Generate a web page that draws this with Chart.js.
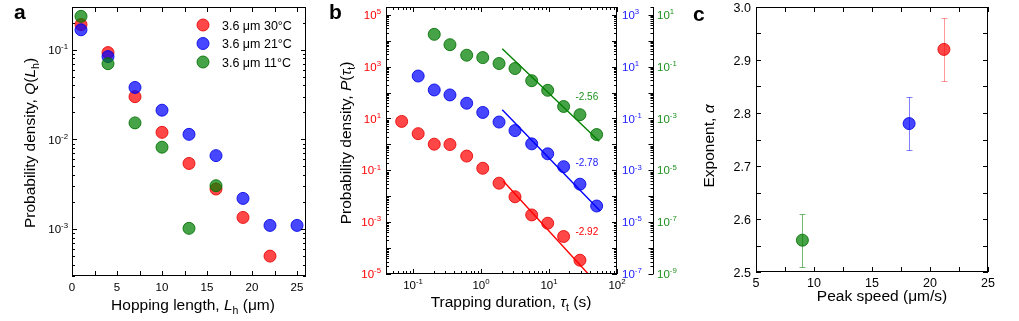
<!DOCTYPE html>
<html>
<head>
<meta charset="utf-8">
<script src="https://cdn.jsdelivr.net/npm/chart.js@4.4.1/dist/chart.umd.min.js"></script>
<style>
  body { margin: 0; background: #fff; width: 1019px; height: 321px; overflow: hidden; position: relative; }
  canvas { position: absolute; top: 0; }
</style>
</head>
<body>
<canvas id="chartA" width="335" height="321" style="left:0"></canvas>
<canvas id="chartB" width="380" height="321" style="left:320px"></canvas>
<canvas id="chartC" width="339" height="321" style="left:680px"></canvas>
<script>
// ---- panel a: hopping length distribution ----
const hopLength = [1, 4, 7, 10, 13, 16, 19, 22, 25];
const hop30 = [0.191, 0.093, 0.030, 0.012, 0.0054, 0.0028, 0.00135, 0.0005];
const hop21 = [0.167, 0.084, 0.038, 0.0212, 0.0114, 0.0066, 0.0022, 0.0011, 0.0011];
const hop11 = [0.236, 0.070, 0.0153, 0.0082, 0.00102, 0.00305];
const seriesNames = ['3.6 \u03bcm 30\u00b0C', '3.6 \u03bcm 21\u00b0C', '3.6 \u03bcm 11\u00b0C'];
const hopXLabels = [0, 5, 10, 15, 20, 25];
const hopYLabels = [-1, -2, -3];

// ---- panel b: trapping duration distribution ----
const trapTime = [0.068, 0.119, 0.205, 0.349, 0.615, 1.06, 1.84, 3.16, 5.56, 9.56, 16.4, 28.5, 50.2];
const trap30 = [7.7, 2.6, 1.02, 0.99, 0.354, 0.12, 0.0319, 0.00955, 0.0019, 0.00091, 0.00028, 3.4e-5];
const trap21 = [4.34, 1.26, 0.81, 0.388, 0.171, 0.0728, 0.0341, 0.0105, 0.00434, 0.00138, 0.000292, 4.2e-5];
const trap11 = [1.76, 0.703, 0.276, 0.223, 0.132, 0.0847, 0.0287, 0.0122, 0.0029, 0.0014, 0.00024];
const fitLabels = ['-2.92', '-2.78', '-2.56'];
const fitX = [[2.12, 37.8], [2.05, 56.1], [2.05, 54.8]];
const fitY = [[0.039, 1e-5], [0.217, 2.78e-5], [0.494, 1.33e-4]];
const fitLabelX = 36;
const fitLabelY = [4.4e-4, 0.00208, 0.0074];
const trapXLabels = [-1, 0, 1, 2];
const redYLabels = [5, 3, 1, -1, -3, -5];
const blueYLabels = [3, 1, -1, -3, -5, -7];
const greenYLabels = [1, -1, -3, -5, -7, -9];

// ---- panel c: exponent vs peak speed ----
const peakSpeed = [9.0, 18.2, 21.2];
const exponent = [2.56, 2.78, 2.92];
const exponentErr = [0.05, 0.05, 0.06];
const speedLabels = [5, 10, 15, 20, 25];
const exponentLabels = [2.5, 2.6, 2.7, 2.8, 2.9, 3.0];

const FONT = '"Liberation Sans", Arial, Helvetica, sans-serif';
const RED = 'rgba(255,0,0,0.72)', BLUE = 'rgba(0,0,255,0.72)', GREEN = 'rgba(0,128,0,0.72)';
const RED_EDGE = 'rgba(230,0,0,0.85)', BLUE_EDGE = 'rgba(0,0,230,0.85)', GREEN_EDGE = 'rgba(0,110,0,0.85)';
const RED_TXT = '#ff0000', BLUE_TXT = '#1a1aff', GREEN_TXT = '#1f921f';

function logValues(min, max) {
    const out = [];
    for (let e = Math.floor(Math.log10(min)); e <= Math.ceil(Math.log10(max)); e++) {
        for (let m = 1; m < 10; m++) {
            const v = m * Math.pow(10, e);
            if (v >= min * 0.999 && v <= max * 1.001) out.push({ v: v, major: m === 1 });
        }
    }
    return out;
}

function partFont(p, size) {
    const s = (p[1] === 'sub' || p[1] === 'sup') ? size * 0.68 : size;
    return (p[1] === 'i' ? 'italic ' : '') + s + 'px ' + FONT;
}
function drawParts(ctx, parts, x, y, size, color, align, rotate) {
    ctx.save();
    ctx.translate(x, y);
    if (rotate) ctx.rotate(-Math.PI / 2);
    let w = 0;
    parts.forEach(p => { ctx.font = partFont(p, size); w += ctx.measureText(p[0]).width; });
    let cx = align === 'left' ? 0 : align === 'right' ? -w : -w / 2;
    ctx.fillStyle = color;
    ctx.textAlign = 'left';
    ctx.textBaseline = 'alphabetic';
    const base = size * 0.36;
    parts.forEach(p => {
        ctx.font = partFont(p, size);
        const dy = p[1] === 'sub' ? size * 0.3 : p[1] === 'sup' ? -size * 0.42 : 0;
        ctx.fillText(p[0], cx, base + dy);
        cx += ctx.measureText(p[0]).width;
    });
    ctx.restore();
}
const pow10 = e => [['10', ''], [String(e), 'sup']];

function tick(ctx, x1, y1, x2, y2) {
    ctx.beginPath();
    ctx.moveTo(x1, y1);
    ctx.lineTo(x2, y2);
    ctx.stroke();
}
function frame(ctx, a) {
    ctx.strokeStyle = '#000';
    ctx.lineWidth = 1;
    ctx.strokeRect(a.left + 0.5, a.top + 0.5, a.right - a.left - 1, a.bottom - a.top - 1);
}
function panelLetter(ctx, letter, x, y) {
    ctx.save();
    ctx.font = 'bold 21px ' + FONT;
    ctx.fillStyle = '#000';
    ctx.textAlign = 'left';
    ctx.textBaseline = 'alphabetic';
    ctx.fillText(letter, x, y);
    ctx.restore();
}
const px = v => Math.round(v) + 0.5;

const baseOptions = {
    responsive: false,
    animation: false,
    events: [],
    plugins: { legend: { display: false }, tooltip: { enabled: false } }
};

// ================= panel a =================
const decoA = {
    id: 'decoA',
    afterDraw(chart) {
        const { ctx, chartArea: a, scales: { x, y } } = chart;
        ctx.save();
        frame(ctx, a);
        for (let i = 0; i <= 10; i++) {
            const xp = px(x.getPixelForValue(i * 2.5));
            tick(ctx, xp, a.bottom, xp, a.bottom - 5);
            tick(ctx, xp, a.top, xp, a.top + 5);
        }
        logValues(y.min, y.max).forEach(t => {
            const yp = px(y.getPixelForValue(t.v));
            const len = t.major ? 5 : 3;
            tick(ctx, a.left, yp, a.left + len, yp);
            tick(ctx, a.right, yp, a.right - len, yp);
        });
        hopXLabels.forEach(v => drawParts(ctx, [[String(v), '']], x.getPixelForValue(v), a.bottom + 11, 11.5, '#000', 'center'));
        hopYLabels.forEach(e => drawParts(ctx, pow10(e), a.left - 4, y.getPixelForValue(Math.pow(10, e)), 11.5, '#000', 'right'));
        drawParts(ctx, [['Hopping length, ', ''], ['L', 'i'], ['h', 'sub'], [' (\u03bcm)', '']], 193, 304, 15.5, '#000', 'center');
        drawParts(ctx, [['Probability density, ', ''], ['Q', 'i'], ['(', ''], ['L', 'i'], ['h', 'sub'], [')', '']], 29, 143, 15.5, '#000', 'center', true);
        // legend
        const fills = [RED, BLUE, GREEN], edges = [RED_EDGE, BLUE_EDGE, GREEN_EDGE];
        seriesNames.forEach((name, i) => {
            const ly = 25 + i * 18.5;
            ctx.beginPath();
            ctx.arc(203, ly, 6, 0, Math.PI * 2);
            ctx.fillStyle = fills[i];
            ctx.fill();
            ctx.strokeStyle = edges[i];
            ctx.stroke();
            drawParts(ctx, [[name, '']], 222, ly, 12.5, '#000', 'left');
        });
        panelLetter(ctx, 'a', 14, 19);
        ctx.restore();
    }
};

new Chart(document.getElementById('chartA'), {
    type: 'scatter',
    data: {
        datasets: [
            { label: seriesNames[0], data: hop30.map((v, i) => ({ x: hopLength[i], y: v })), backgroundColor: RED, borderColor: RED_EDGE, order: 3 },
            { label: seriesNames[1], data: hop21.map((v, i) => ({ x: hopLength[i], y: v })), backgroundColor: BLUE, borderColor: BLUE_EDGE, order: 2 },
            { label: seriesNames[2], data: hop11.map((v, i) => ({ x: hopLength[i], y: v })), backgroundColor: GREEN, borderColor: GREEN_EDGE, order: 1 }
        ]
    },
    options: {
        ...baseOptions,
        layout: { padding: { left: 72, right: 29, top: 6, bottom: 45 } },
        elements: { point: { radius: 6, borderWidth: 1 } },
        scales: {
            x: { type: 'linear', min: 0, max: 26, display: false },
            y: { type: 'logarithmic', min: 3e-4, max: 0.3, display: false }
        }
    },
    plugins: [decoA]
});

// ================= panel b =================
const GREEN_AXIS = 333;
const decoB = {
    id: 'decoB',
    afterDatasetsDraw(chart) {
        const { ctx, scales: s } = chart;
        const axes = [s.yRed, s.yBlue, s.yGreen], cols = [RED_TXT, BLUE_TXT, GREEN_TXT];
        fitLabels.forEach((t, i) => drawParts(ctx, [[t, '']], s.x.getPixelForValue(fitLabelX), axes[i].getPixelForValue(fitLabelY[i]), 10, cols[i], 'center'));
    },
    afterDraw(chart) {
        const { ctx, chartArea: a, scales: { x, yRed, yBlue, yGreen } } = chart;
        ctx.save();
        frame(ctx, a);
        logValues(x.min, x.max).forEach(t => {
            const xp = px(x.getPixelForValue(t.v));
            const len = t.major ? 5 : 3;
            tick(ctx, xp, a.bottom, xp, a.bottom - len);
            tick(ctx, xp, a.top, xp, a.top + len);
        });
        logValues(yRed.min, yRed.max).forEach(t => {
            const yp = px(yRed.getPixelForValue(t.v));
            tick(ctx, a.left, yp, a.left + (t.major ? 5 : 3), yp);
        });
        logValues(yBlue.min, yBlue.max).forEach(t => {
            const yp = px(yBlue.getPixelForValue(t.v));
            tick(ctx, a.right, yp, a.right - (t.major ? 5 : 3), yp);
        });
        tick(ctx, GREEN_AXIS + 0.5, a.top, GREEN_AXIS + 0.5, a.bottom);
        logValues(yGreen.min, yGreen.max).forEach(t => {
            const yp = px(yGreen.getPixelForValue(t.v));
            tick(ctx, GREEN_AXIS + 0.5, yp, GREEN_AXIS + 0.5 - (t.major ? 5 : 3), yp);
        });
        trapXLabels.forEach(e => drawParts(ctx, pow10(e), x.getPixelForValue(Math.pow(10, e)), a.bottom + 11, 11.5, '#000', 'center'));
        redYLabels.forEach(e => drawParts(ctx, pow10(e), a.left - 5, yRed.getPixelForValue(Math.pow(10, e)), 11.5, RED_TXT, 'right'));
        blueYLabels.forEach(e => drawParts(ctx, pow10(e), a.right + 5, yBlue.getPixelForValue(Math.pow(10, e)), 11.5, BLUE_TXT, 'left'));
        greenYLabels.forEach(e => drawParts(ctx, pow10(e), GREEN_AXIS + 4, yGreen.getPixelForValue(Math.pow(10, e)), 11.5, GREEN_TXT, 'left'));
        drawParts(ctx, [['Trapping duration, ', ''], ['\u03c4', 'i'], ['t', 'sub'], [' (s)', '']], 191, 301, 15.5, '#000', 'center');
        drawParts(ctx, [['Probability density, ', ''], ['P', 'i'], ['(', ''], ['\u03c4', 'i'], ['t', 'sub'], [')', '']], 25, 143, 15.5, '#000', 'center', true);
        panelLetter(ctx, 'b', 9, 19);
        ctx.restore();
    }
};

const fitColors = ['#ff0000', '#0000ff', '#008000'];
const fitAxes = ['yRed', 'yBlue', 'yGreen'];
new Chart(document.getElementById('chartB'), {
    type: 'scatter',
    data: {
        datasets: [
            ...fitLabels.map((t, i) => ({
                type: 'line', label: 'fit ' + t, data: fitX[i].map((v, j) => ({ x: v, y: fitY[i][j] })),
                yAxisID: fitAxes[i], borderColor: fitColors[i], borderWidth: 1.4, pointRadius: 0, showLine: true, order: 0
            })),
            { label: seriesNames[0], data: trap30.map((v, i) => ({ x: trapTime[i], y: v })), yAxisID: 'yRed', backgroundColor: RED, borderColor: RED_EDGE, order: 3 },
            { label: seriesNames[1], data: trap21.map((v, i) => ({ x: trapTime[i + 1], y: v })), yAxisID: 'yBlue', backgroundColor: BLUE, borderColor: BLUE_EDGE, order: 2 },
            { label: seriesNames[2], data: trap11.map((v, i) => ({ x: trapTime[i + 2], y: v })), yAxisID: 'yGreen', backgroundColor: GREEN, borderColor: GREEN_EDGE, order: 1 }
        ]
    },
    options: {
        ...baseOptions,
        layout: { padding: { left: 66, right: 83, top: 5, bottom: 47 } },
        elements: { point: { radius: 6, borderWidth: 1 } },
        scales: {
            x: { type: 'logarithmic', min: 0.04, max: 100, display: false },
            yRed: { type: 'logarithmic', position: 'left', min: 1e-5, max: 2e5, display: false },
            yBlue: { type: 'logarithmic', position: 'right', min: 1e-7, max: 2e3, display: false },
            yGreen: { type: 'logarithmic', position: 'right', min: 1e-9, max: 2e1, display: false }
        }
    },
    plugins: [decoB]
});

// ================= panel c =================
const errColors = ['rgba(0,128,0,0.55)', 'rgba(0,0,255,0.5)', 'rgba(255,0,0,0.4)'];
const decoC = {
    id: 'decoC',
    beforeDatasetsDraw(chart) {
        const { ctx, scales: { x, y } } = chart;
        ctx.save();
        ctx.lineWidth = 1;
        peakSpeed.forEach((v, i) => {
            const xp = px(x.getPixelForValue(v));
            const y1 = px(y.getPixelForValue(exponent[i] - exponentErr[i]));
            const y2 = px(y.getPixelForValue(exponent[i] + exponentErr[i]));
            ctx.strokeStyle = errColors[i];
            tick(ctx, xp, y1, xp, y2);
            tick(ctx, xp - 3, y1, xp + 3, y1);
            tick(ctx, xp - 3, y2, xp + 3, y2);
        });
        ctx.restore();
    },
    afterDraw(chart) {
        const { ctx, chartArea: a, scales: { x, y } } = chart;
        ctx.save();
        frame(ctx, a);
        for (let i = 0; i <= 8; i++) {
            const xp = px(x.getPixelForValue(5 + i * 2.5));
            tick(ctx, xp, a.bottom, xp, a.bottom - 5);
            tick(ctx, xp, a.top, xp, a.top + 5);
        }
        for (let i = 0; i <= 10; i++) {
            const yp = px(y.getPixelForValue(2.5 + i * 0.05));
            tick(ctx, a.left, yp, a.left + 5, yp);
            tick(ctx, a.right, yp, a.right - 5, yp);
        }
        speedLabels.forEach(v => drawParts(ctx, [[String(v), '']], x.getPixelForValue(v), a.bottom + 10, 12.5, '#000', 'center'));
        exponentLabels.forEach(v => drawParts(ctx, [[v.toFixed(1), '']], a.left - 5, y.getPixelForValue(v), 12.5, '#000', 'right'));
        drawParts(ctx, [['Peak speed (\u03bcm/s)', '']], 202, 295, 15.5, '#000', 'center');
        drawParts(ctx, [['Exponent, ', ''], ['\u03b1', 'i']], 28, 146, 15.5, '#000', 'center', true);
        panelLetter(ctx, 'c', 13, 21);
        ctx.restore();
    }
};

new Chart(document.getElementById('chartC'), {
    type: 'scatter',
    data: {
        datasets: [{
            label: 'Exponent',
            data: peakSpeed.map((v, i) => ({ x: v, y: exponent[i] })),
            backgroundColor: [GREEN, BLUE, RED],
            borderColor: [GREEN_EDGE, BLUE_EDGE, RED_EDGE]
        }]
    },
    options: {
        ...baseOptions,
        layout: { padding: { left: 76, right: 31, top: 4, bottom: 49 } },
        elements: { point: { radius: 6, borderWidth: 1 } },
        scales: {
            x: { type: 'linear', min: 5, max: 25, display: false },
            y: { type: 'linear', min: 2.5, max: 3.0, display: false }
        }
    },
    plugins: [decoC]
});
</script>
</body>
</html>
